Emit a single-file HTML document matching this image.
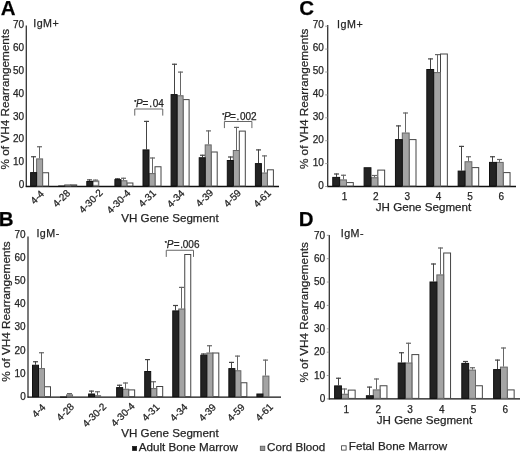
<!DOCTYPE html><html><head><meta charset="utf-8"><style>html,body{margin:0;padding:0;background:#fff;}svg{display:block;filter:grayscale(1);}text{font-family:"Liberation Sans", sans-serif;stroke:#2a2a2a;stroke-width:0.25px;}</style></head><body>
<svg width="520" height="452" viewBox="0 0 520 452">
<rect x="0" y="0" width="520" height="452" fill="#fff"/>
<line x1="26.30" y1="25.50" x2="26.30" y2="187.00" stroke="#333" stroke-width="1.3"/>
<line x1="25.80" y1="186.50" x2="279.00" y2="186.50" stroke="#111" stroke-width="1.3"/>
<text x="24.20" y="188.40" font-size="10" text-anchor="end" fill="#222">0</text>
<text x="24.20" y="165.44" font-size="10" text-anchor="end" fill="#222">10</text>
<text x="24.20" y="142.48" font-size="10" text-anchor="end" fill="#222">20</text>
<text x="24.20" y="119.52" font-size="10" text-anchor="end" fill="#222">30</text>
<text x="24.20" y="96.56" font-size="10" text-anchor="end" fill="#222">40</text>
<text x="24.20" y="73.60" font-size="10" text-anchor="end" fill="#222">50</text>
<text x="24.20" y="50.64" font-size="10" text-anchor="end" fill="#222">60</text>
<text x="24.20" y="27.68" font-size="10" text-anchor="end" fill="#222">70</text>
<text x="0.70" y="14.50" font-size="20.5" font-weight="bold" fill="#000">A</text>
<text x="33.20" y="27.20" font-size="10.7" letter-spacing="0.5" fill="#222">IgM+</text>
<text transform="translate(9.10,99.20) rotate(-90)" font-size="11.75" text-anchor="middle" fill="#222">% of VH4 Rearrangements</text>
<text x="121.30" y="222.00" font-size="11.6" fill="#222">VH Gene Segment</text>
<line x1="33.50" y1="172.10" x2="33.50" y2="156.25" stroke="#444" stroke-width="1"/>
<line x1="31.00" y1="156.75" x2="36.00" y2="156.75" stroke="#444" stroke-width="1.2"/>
<line x1="39.50" y1="158.40" x2="39.50" y2="146.25" stroke="#666" stroke-width="1"/>
<line x1="37.00" y1="146.75" x2="42.00" y2="146.75" stroke="#666" stroke-width="1.2"/>
<rect x="42.60" y="172.75" width="6.00" height="13.25" fill="#ffffff" stroke="#444" stroke-width="1"/>
<rect x="36.60" y="158.90" width="6.00" height="27.10" fill="#a4a4a4" stroke="#666" stroke-width="1"/>
<rect x="30.60" y="172.60" width="6.00" height="13.40" fill="#232323" stroke="#111" stroke-width="1"/>
<text transform="translate(44.80,194.50) rotate(-45)" font-size="10" text-anchor="end" fill="#222">4-4</text>
<rect x="70.70" y="184.90" width="6.00" height="1.10" fill="#ffffff" stroke="#444" stroke-width="1"/>
<rect x="64.70" y="184.90" width="6.00" height="1.10" fill="#a4a4a4" stroke="#666" stroke-width="1"/>
<rect x="58.70" y="186.00" width="6.00" height="0.20" fill="#232323" stroke="#111" stroke-width="1"/>
<text transform="translate(70.90,193.70) rotate(-45)" font-size="10" text-anchor="end" fill="#222">4-28</text>
<line x1="89.50" y1="181.00" x2="89.50" y2="179.40" stroke="#444" stroke-width="1"/>
<line x1="87.00" y1="179.90" x2="92.00" y2="179.90" stroke="#444" stroke-width="1.2"/>
<line x1="95.50" y1="180.50" x2="95.50" y2="179.60" stroke="#666" stroke-width="1"/>
<line x1="93.00" y1="180.10" x2="98.00" y2="180.10" stroke="#666" stroke-width="1.2"/>
<rect x="92.80" y="181.00" width="6.00" height="5.00" fill="#a4a4a4" stroke="#666" stroke-width="1"/>
<rect x="86.80" y="181.50" width="6.00" height="4.50" fill="#232323" stroke="#111" stroke-width="1"/>
<text transform="translate(103.50,193.30) rotate(-45)" font-size="10" text-anchor="end" fill="#222">4-30-2</text>
<line x1="117.50" y1="179.10" x2="117.50" y2="178.30" stroke="#444" stroke-width="1"/>
<line x1="115.00" y1="178.80" x2="120.00" y2="178.80" stroke="#444" stroke-width="1.2"/>
<line x1="123.50" y1="180.25" x2="123.50" y2="177.75" stroke="#666" stroke-width="1"/>
<line x1="121.00" y1="178.25" x2="126.00" y2="178.25" stroke="#666" stroke-width="1.2"/>
<rect x="126.90" y="183.00" width="6.00" height="3.00" fill="#ffffff" stroke="#444" stroke-width="1"/>
<rect x="120.90" y="180.75" width="6.00" height="5.25" fill="#a4a4a4" stroke="#666" stroke-width="1"/>
<rect x="114.90" y="179.60" width="6.00" height="6.40" fill="#232323" stroke="#111" stroke-width="1"/>
<text transform="translate(131.25,193.75) rotate(-45)" font-size="10" text-anchor="end" fill="#222">4-30-4</text>
<line x1="146.50" y1="149.40" x2="146.50" y2="120.90" stroke="#444" stroke-width="1"/>
<line x1="144.00" y1="121.40" x2="149.00" y2="121.40" stroke="#444" stroke-width="1.2"/>
<line x1="152.50" y1="173.10" x2="152.50" y2="157.50" stroke="#666" stroke-width="1"/>
<line x1="150.00" y1="158.00" x2="155.00" y2="158.00" stroke="#666" stroke-width="1.2"/>
<rect x="155.00" y="166.75" width="6.00" height="19.25" fill="#ffffff" stroke="#444" stroke-width="1"/>
<rect x="149.00" y="173.60" width="6.00" height="12.40" fill="#a4a4a4" stroke="#666" stroke-width="1"/>
<rect x="143.00" y="149.90" width="6.00" height="36.10" fill="#232323" stroke="#111" stroke-width="1"/>
<text transform="translate(156.70,193.70) rotate(-45)" font-size="10" text-anchor="end" fill="#222">4-31</text>
<line x1="174.50" y1="94.10" x2="174.50" y2="63.75" stroke="#444" stroke-width="1"/>
<line x1="172.00" y1="64.25" x2="177.00" y2="64.25" stroke="#444" stroke-width="1.2"/>
<line x1="180.50" y1="95.25" x2="180.50" y2="71.60" stroke="#666" stroke-width="1"/>
<line x1="178.00" y1="72.10" x2="183.00" y2="72.10" stroke="#666" stroke-width="1.2"/>
<rect x="183.10" y="99.60" width="6.00" height="86.40" fill="#ffffff" stroke="#444" stroke-width="1"/>
<rect x="177.10" y="95.75" width="6.00" height="90.25" fill="#a4a4a4" stroke="#666" stroke-width="1"/>
<rect x="171.10" y="94.60" width="6.00" height="91.40" fill="#232323" stroke="#111" stroke-width="1"/>
<text transform="translate(185.10,194.00) rotate(-45)" font-size="10" text-anchor="end" fill="#222">4-34</text>
<line x1="202.50" y1="157.25" x2="202.50" y2="154.75" stroke="#444" stroke-width="1"/>
<line x1="200.00" y1="155.25" x2="205.00" y2="155.25" stroke="#444" stroke-width="1.2"/>
<line x1="208.50" y1="144.40" x2="208.50" y2="130.40" stroke="#666" stroke-width="1"/>
<line x1="206.00" y1="130.90" x2="211.00" y2="130.90" stroke="#666" stroke-width="1.2"/>
<rect x="211.20" y="152.00" width="6.00" height="34.00" fill="#ffffff" stroke="#444" stroke-width="1"/>
<rect x="205.20" y="144.90" width="6.00" height="41.10" fill="#a4a4a4" stroke="#666" stroke-width="1"/>
<rect x="199.20" y="157.75" width="6.00" height="28.25" fill="#232323" stroke="#111" stroke-width="1"/>
<text transform="translate(214.00,193.30) rotate(-45)" font-size="10" text-anchor="end" fill="#222">4-39</text>
<line x1="230.50" y1="160.00" x2="230.50" y2="156.50" stroke="#444" stroke-width="1"/>
<line x1="228.00" y1="157.00" x2="233.00" y2="157.00" stroke="#444" stroke-width="1.2"/>
<line x1="236.50" y1="150.00" x2="236.50" y2="126.90" stroke="#666" stroke-width="1"/>
<line x1="234.00" y1="127.40" x2="239.00" y2="127.40" stroke="#666" stroke-width="1.2"/>
<rect x="239.30" y="131.10" width="6.00" height="54.90" fill="#ffffff" stroke="#444" stroke-width="1"/>
<rect x="233.30" y="150.50" width="6.00" height="35.50" fill="#a4a4a4" stroke="#666" stroke-width="1"/>
<rect x="227.30" y="160.50" width="6.00" height="25.50" fill="#232323" stroke="#111" stroke-width="1"/>
<text transform="translate(241.80,193.50) rotate(-45)" font-size="10" text-anchor="end" fill="#222">4-59</text>
<line x1="258.50" y1="163.10" x2="258.50" y2="149.40" stroke="#444" stroke-width="1"/>
<line x1="256.00" y1="149.90" x2="261.00" y2="149.90" stroke="#444" stroke-width="1.2"/>
<line x1="264.50" y1="172.50" x2="264.50" y2="155.40" stroke="#666" stroke-width="1"/>
<line x1="262.00" y1="155.90" x2="267.00" y2="155.90" stroke="#666" stroke-width="1.2"/>
<rect x="267.40" y="169.80" width="6.00" height="16.20" fill="#ffffff" stroke="#444" stroke-width="1"/>
<rect x="261.40" y="173.00" width="6.00" height="13.00" fill="#a4a4a4" stroke="#666" stroke-width="1"/>
<rect x="255.40" y="163.60" width="6.00" height="22.40" fill="#232323" stroke="#111" stroke-width="1"/>
<text transform="translate(271.60,193.80) rotate(-45)" font-size="10" text-anchor="end" fill="#222">4-61</text>
<rect x="93.6" y="182.2" width="4.2" height="2.6" fill="#fff"/>
<path d="M134.75,115.60 L134.75,109.00 L162.75,109.00 L162.75,115.60" fill="none" stroke="#666" stroke-width="1"/>
<text x="134.20" y="103.80" font-size="5.5" fill="#222">*</text>
<text y="106.90" font-size="10" fill="#222"><tspan x="135.90" font-style="italic">P</tspan><tspan x="142.50">=</tspan><tspan x="149.30">.</tspan><tspan x="152.80">04</tspan></text>
<path d="M224.40,128.10 L224.40,121.50 L251.90,121.50 L251.90,128.10" fill="none" stroke="#666" stroke-width="1"/>
<text x="222.20" y="116.90" font-size="5.5" fill="#222">*</text>
<text y="119.50" font-size="10" fill="#222"><tspan x="223.90" font-style="italic">P</tspan><tspan x="229.90">=</tspan><tspan x="236.60">.</tspan><tspan x="240.00">002</tspan></text>
<line x1="28.00" y1="236.50" x2="28.00" y2="397.60" stroke="#333" stroke-width="1.3"/>
<line x1="27.50" y1="397.10" x2="281.00" y2="397.10" stroke="#111" stroke-width="1.3"/>
<text x="25.70" y="399.90" font-size="10" text-anchor="end" fill="#222">0</text>
<text x="25.70" y="376.70" font-size="10" text-anchor="end" fill="#222">10</text>
<text x="25.70" y="353.50" font-size="10" text-anchor="end" fill="#222">20</text>
<text x="25.70" y="330.30" font-size="10" text-anchor="end" fill="#222">30</text>
<text x="25.70" y="307.10" font-size="10" text-anchor="end" fill="#222">40</text>
<text x="25.70" y="283.90" font-size="10" text-anchor="end" fill="#222">50</text>
<text x="25.70" y="260.70" font-size="10" text-anchor="end" fill="#222">60</text>
<text x="25.70" y="237.50" font-size="10" text-anchor="end" fill="#222">70</text>
<text x="-1.30" y="226.30" font-size="20.5" font-weight="bold" fill="#000">B</text>
<text x="36.40" y="237.30" font-size="10.7" letter-spacing="0.5" fill="#222">IgM-</text>
<text transform="translate(9.50,311.60) rotate(-90)" font-size="11.75" text-anchor="middle" fill="#222">% of VH4 Rearrangements</text>
<text x="121.30" y="436.80" font-size="11.6" fill="#222">VH Gene Segment</text>
<line x1="35.50" y1="364.75" x2="35.50" y2="361.25" stroke="#444" stroke-width="1"/>
<line x1="33.00" y1="361.75" x2="38.00" y2="361.75" stroke="#444" stroke-width="1.2"/>
<line x1="41.50" y1="368.10" x2="41.50" y2="352.25" stroke="#666" stroke-width="1"/>
<line x1="39.00" y1="352.75" x2="44.00" y2="352.75" stroke="#666" stroke-width="1.2"/>
<rect x="44.50" y="386.75" width="6.00" height="9.85" fill="#ffffff" stroke="#444" stroke-width="1"/>
<rect x="38.50" y="368.60" width="6.00" height="28.00" fill="#a4a4a4" stroke="#666" stroke-width="1"/>
<rect x="32.50" y="365.25" width="6.00" height="31.35" fill="#232323" stroke="#111" stroke-width="1"/>
<text transform="translate(46.10,408.00) rotate(-45)" font-size="10" text-anchor="end" fill="#222">4-4</text>
<line x1="69.50" y1="394.40" x2="69.50" y2="393.10" stroke="#666" stroke-width="1"/>
<line x1="67.00" y1="393.60" x2="72.00" y2="393.60" stroke="#666" stroke-width="1.2"/>
<rect x="66.55" y="394.90" width="6.00" height="1.70" fill="#a4a4a4" stroke="#666" stroke-width="1"/>
<rect x="60.55" y="397.00" width="6.00" height="0.20" fill="#232323" stroke="#111" stroke-width="1"/>
<text transform="translate(74.75,407.40) rotate(-45)" font-size="10" text-anchor="end" fill="#222">4-28</text>
<line x1="91.50" y1="393.50" x2="91.50" y2="390.60" stroke="#444" stroke-width="1"/>
<line x1="89.00" y1="391.10" x2="94.00" y2="391.10" stroke="#444" stroke-width="1.2"/>
<line x1="97.50" y1="395.25" x2="97.50" y2="391.25" stroke="#666" stroke-width="1"/>
<line x1="95.00" y1="391.75" x2="100.00" y2="391.75" stroke="#666" stroke-width="1.2"/>
<rect x="94.60" y="395.75" width="6.00" height="0.85" fill="#a4a4a4" stroke="#666" stroke-width="1"/>
<rect x="88.60" y="394.00" width="6.00" height="2.60" fill="#232323" stroke="#111" stroke-width="1"/>
<text transform="translate(106.90,407.20) rotate(-45)" font-size="10" text-anchor="end" fill="#222">4-30-2</text>
<line x1="119.50" y1="387.10" x2="119.50" y2="384.75" stroke="#444" stroke-width="1"/>
<line x1="117.00" y1="385.25" x2="122.00" y2="385.25" stroke="#444" stroke-width="1.2"/>
<line x1="125.50" y1="388.75" x2="125.50" y2="382.50" stroke="#666" stroke-width="1"/>
<line x1="123.00" y1="383.00" x2="128.00" y2="383.00" stroke="#666" stroke-width="1.2"/>
<rect x="128.65" y="389.90" width="6.00" height="6.70" fill="#ffffff" stroke="#444" stroke-width="1"/>
<rect x="122.65" y="389.25" width="6.00" height="7.35" fill="#a4a4a4" stroke="#666" stroke-width="1"/>
<rect x="116.65" y="387.60" width="6.00" height="9.00" fill="#232323" stroke="#111" stroke-width="1"/>
<text transform="translate(135.35,406.90) rotate(-45)" font-size="10" text-anchor="end" fill="#222">4-30-4</text>
<line x1="147.50" y1="371.00" x2="147.50" y2="359.10" stroke="#444" stroke-width="1"/>
<line x1="145.00" y1="359.60" x2="150.00" y2="359.60" stroke="#444" stroke-width="1.2"/>
<line x1="153.50" y1="388.10" x2="153.50" y2="381.25" stroke="#666" stroke-width="1"/>
<line x1="151.00" y1="381.75" x2="156.00" y2="381.75" stroke="#666" stroke-width="1.2"/>
<rect x="156.70" y="386.50" width="6.00" height="10.10" fill="#ffffff" stroke="#444" stroke-width="1"/>
<rect x="150.70" y="388.60" width="6.00" height="8.00" fill="#a4a4a4" stroke="#666" stroke-width="1"/>
<rect x="144.70" y="371.50" width="6.00" height="25.10" fill="#232323" stroke="#111" stroke-width="1"/>
<text transform="translate(160.20,407.70) rotate(-45)" font-size="10" text-anchor="end" fill="#222">4-31</text>
<line x1="175.50" y1="310.40" x2="175.50" y2="305.00" stroke="#444" stroke-width="1"/>
<line x1="173.00" y1="305.50" x2="178.00" y2="305.50" stroke="#444" stroke-width="1.2"/>
<line x1="181.50" y1="308.50" x2="181.50" y2="286.90" stroke="#666" stroke-width="1"/>
<line x1="179.00" y1="287.40" x2="184.00" y2="287.40" stroke="#666" stroke-width="1.2"/>
<rect x="184.75" y="254.50" width="6.00" height="142.10" fill="#ffffff" stroke="#444" stroke-width="1"/>
<rect x="178.75" y="309.00" width="6.00" height="87.60" fill="#a4a4a4" stroke="#666" stroke-width="1"/>
<rect x="172.75" y="310.90" width="6.00" height="85.70" fill="#232323" stroke="#111" stroke-width="1"/>
<text transform="translate(188.25,407.80) rotate(-45)" font-size="10" text-anchor="end" fill="#222">4-34</text>
<line x1="203.50" y1="354.75" x2="203.50" y2="353.50" stroke="#444" stroke-width="1"/>
<line x1="201.00" y1="354.00" x2="206.00" y2="354.00" stroke="#444" stroke-width="1.2"/>
<line x1="209.50" y1="352.50" x2="209.50" y2="345.25" stroke="#666" stroke-width="1"/>
<line x1="207.00" y1="345.75" x2="212.00" y2="345.75" stroke="#666" stroke-width="1.2"/>
<rect x="212.80" y="353.00" width="6.00" height="43.60" fill="#ffffff" stroke="#444" stroke-width="1"/>
<rect x="206.80" y="353.00" width="6.00" height="43.60" fill="#a4a4a4" stroke="#666" stroke-width="1"/>
<rect x="200.80" y="355.25" width="6.00" height="41.35" fill="#232323" stroke="#111" stroke-width="1"/>
<text transform="translate(216.80,407.90) rotate(-45)" font-size="10" text-anchor="end" fill="#222">4-39</text>
<line x1="231.50" y1="368.10" x2="231.50" y2="361.90" stroke="#444" stroke-width="1"/>
<line x1="229.00" y1="362.40" x2="234.00" y2="362.40" stroke="#444" stroke-width="1.2"/>
<line x1="237.50" y1="370.25" x2="237.50" y2="355.60" stroke="#666" stroke-width="1"/>
<line x1="235.00" y1="356.10" x2="240.00" y2="356.10" stroke="#666" stroke-width="1.2"/>
<rect x="240.85" y="382.75" width="6.00" height="13.85" fill="#ffffff" stroke="#444" stroke-width="1"/>
<rect x="234.85" y="370.75" width="6.00" height="25.85" fill="#a4a4a4" stroke="#666" stroke-width="1"/>
<rect x="228.85" y="368.60" width="6.00" height="28.00" fill="#232323" stroke="#111" stroke-width="1"/>
<text transform="translate(245.35,407.90) rotate(-45)" font-size="10" text-anchor="end" fill="#222">4-59</text>
<line x1="265.50" y1="375.60" x2="265.50" y2="359.60" stroke="#666" stroke-width="1"/>
<line x1="263.00" y1="360.10" x2="268.00" y2="360.10" stroke="#666" stroke-width="1.2"/>
<rect x="262.90" y="376.10" width="6.00" height="20.50" fill="#a4a4a4" stroke="#666" stroke-width="1"/>
<rect x="256.90" y="394.00" width="6.00" height="2.60" fill="#232323" stroke="#111" stroke-width="1"/>
<text transform="translate(273.60,407.50) rotate(-45)" font-size="10" text-anchor="end" fill="#222">4-61</text>
<path d="M166.25,256.90 L166.25,250.25 L193.50,250.25 L193.50,256.90" fill="none" stroke="#666" stroke-width="1"/>
<text x="164.80" y="245.30" font-size="5.5" fill="#222">*</text>
<text y="248.30" font-size="10" fill="#222"><tspan x="166.70" font-style="italic">P</tspan><tspan x="173.80">=</tspan><tspan x="180.20">.</tspan><tspan x="182.80">006</tspan></text>
<line x1="327.70" y1="25.00" x2="327.70" y2="187.00" stroke="#333" stroke-width="1.3"/>
<line x1="327.20" y1="186.50" x2="516.00" y2="186.50" stroke="#111" stroke-width="1.3"/>
<text x="323.90" y="188.60" font-size="10" text-anchor="end" fill="#222">0</text>
<line x1="325.20" y1="186.50" x2="327.70" y2="186.50" stroke="#888" stroke-width="0.8"/>
<text x="323.90" y="165.70" font-size="10" text-anchor="end" fill="#222">10</text>
<line x1="325.20" y1="163.60" x2="327.70" y2="163.60" stroke="#888" stroke-width="0.8"/>
<text x="323.90" y="142.80" font-size="10" text-anchor="end" fill="#222">20</text>
<line x1="325.20" y1="140.70" x2="327.70" y2="140.70" stroke="#888" stroke-width="0.8"/>
<text x="323.90" y="119.90" font-size="10" text-anchor="end" fill="#222">30</text>
<line x1="325.20" y1="117.80" x2="327.70" y2="117.80" stroke="#888" stroke-width="0.8"/>
<text x="323.90" y="97.00" font-size="10" text-anchor="end" fill="#222">40</text>
<line x1="325.20" y1="94.90" x2="327.70" y2="94.90" stroke="#888" stroke-width="0.8"/>
<text x="323.90" y="74.10" font-size="10" text-anchor="end" fill="#222">50</text>
<line x1="325.20" y1="72.00" x2="327.70" y2="72.00" stroke="#888" stroke-width="0.8"/>
<text x="323.90" y="51.20" font-size="10" text-anchor="end" fill="#222">60</text>
<line x1="325.20" y1="49.10" x2="327.70" y2="49.10" stroke="#888" stroke-width="0.8"/>
<text x="323.90" y="28.30" font-size="10" text-anchor="end" fill="#222">70</text>
<line x1="325.20" y1="26.20" x2="327.70" y2="26.20" stroke="#888" stroke-width="0.8"/>
<text x="299.20" y="14.80" font-size="20.5" font-weight="bold" fill="#000">C</text>
<text x="337.10" y="27.50" font-size="10.7" letter-spacing="0.5" fill="#222">IgM+</text>
<text transform="translate(308.20,98.90) rotate(-90)" font-size="11.75" text-anchor="middle" fill="#222">% of VH4 Rearrangements</text>
<text x="375.80" y="210.60" font-size="11.6" fill="#222">JH Gene Segment</text>
<line x1="336.50" y1="176.90" x2="336.50" y2="173.50" stroke="#444" stroke-width="1"/>
<line x1="334.00" y1="174.00" x2="339.00" y2="174.00" stroke="#444" stroke-width="1.2"/>
<line x1="343.50" y1="179.40" x2="343.50" y2="174.75" stroke="#666" stroke-width="1"/>
<line x1="341.00" y1="175.25" x2="346.00" y2="175.25" stroke="#666" stroke-width="1.2"/>
<rect x="346.45" y="182.60" width="6.85" height="3.40" fill="#ffffff" stroke="#444" stroke-width="1"/>
<rect x="339.60" y="179.90" width="6.85" height="6.10" fill="#a4a4a4" stroke="#666" stroke-width="1"/>
<rect x="332.75" y="177.40" width="6.85" height="8.60" fill="#232323" stroke="#111" stroke-width="1"/>
<text x="344.52" y="200.10" font-size="10" text-anchor="middle" fill="#222">1</text>
<line x1="374.50" y1="177.25" x2="374.50" y2="175.00" stroke="#666" stroke-width="1"/>
<line x1="372.00" y1="175.50" x2="377.00" y2="175.50" stroke="#666" stroke-width="1.2"/>
<rect x="377.80" y="170.10" width="6.85" height="15.90" fill="#ffffff" stroke="#444" stroke-width="1"/>
<rect x="370.95" y="177.75" width="6.85" height="8.25" fill="#a4a4a4" stroke="#666" stroke-width="1"/>
<rect x="364.10" y="167.75" width="6.85" height="18.25" fill="#232323" stroke="#111" stroke-width="1"/>
<text x="375.88" y="200.10" font-size="10" text-anchor="middle" fill="#222">2</text>
<line x1="398.50" y1="139.10" x2="398.50" y2="125.40" stroke="#444" stroke-width="1"/>
<line x1="396.00" y1="125.90" x2="401.00" y2="125.90" stroke="#444" stroke-width="1.2"/>
<line x1="405.50" y1="132.50" x2="405.50" y2="112.50" stroke="#666" stroke-width="1"/>
<line x1="403.00" y1="113.00" x2="408.00" y2="113.00" stroke="#666" stroke-width="1.2"/>
<rect x="409.15" y="139.60" width="6.85" height="46.40" fill="#ffffff" stroke="#444" stroke-width="1"/>
<rect x="402.30" y="133.00" width="6.85" height="53.00" fill="#a4a4a4" stroke="#666" stroke-width="1"/>
<rect x="395.45" y="139.60" width="6.85" height="46.40" fill="#232323" stroke="#111" stroke-width="1"/>
<text x="407.22" y="200.10" font-size="10" text-anchor="middle" fill="#222">3</text>
<line x1="430.50" y1="69.00" x2="430.50" y2="58.40" stroke="#444" stroke-width="1"/>
<line x1="428.00" y1="58.90" x2="433.00" y2="58.90" stroke="#444" stroke-width="1.2"/>
<line x1="437.50" y1="72.10" x2="437.50" y2="54.10" stroke="#666" stroke-width="1"/>
<line x1="435.00" y1="54.60" x2="440.00" y2="54.60" stroke="#666" stroke-width="1.2"/>
<rect x="440.50" y="54.00" width="6.85" height="132.00" fill="#ffffff" stroke="#444" stroke-width="1"/>
<rect x="433.65" y="72.60" width="6.85" height="113.40" fill="#a4a4a4" stroke="#666" stroke-width="1"/>
<rect x="426.80" y="69.50" width="6.85" height="116.50" fill="#232323" stroke="#111" stroke-width="1"/>
<text x="438.57" y="200.10" font-size="10" text-anchor="middle" fill="#222">4</text>
<line x1="461.50" y1="170.60" x2="461.50" y2="145.90" stroke="#444" stroke-width="1"/>
<line x1="459.00" y1="146.40" x2="464.00" y2="146.40" stroke="#444" stroke-width="1.2"/>
<line x1="468.50" y1="161.25" x2="468.50" y2="156.25" stroke="#666" stroke-width="1"/>
<line x1="466.00" y1="156.75" x2="471.00" y2="156.75" stroke="#666" stroke-width="1.2"/>
<rect x="471.85" y="167.60" width="6.85" height="18.40" fill="#ffffff" stroke="#444" stroke-width="1"/>
<rect x="465.00" y="161.75" width="6.85" height="24.25" fill="#a4a4a4" stroke="#666" stroke-width="1"/>
<rect x="458.15" y="171.10" width="6.85" height="14.90" fill="#232323" stroke="#111" stroke-width="1"/>
<text x="469.92" y="200.10" font-size="10" text-anchor="middle" fill="#222">5</text>
<line x1="492.50" y1="161.90" x2="492.50" y2="156.25" stroke="#444" stroke-width="1"/>
<line x1="490.00" y1="156.75" x2="495.00" y2="156.75" stroke="#444" stroke-width="1.2"/>
<line x1="499.50" y1="161.90" x2="499.50" y2="159.00" stroke="#666" stroke-width="1"/>
<line x1="497.00" y1="159.50" x2="502.00" y2="159.50" stroke="#666" stroke-width="1.2"/>
<rect x="503.20" y="172.60" width="6.85" height="13.40" fill="#ffffff" stroke="#444" stroke-width="1"/>
<rect x="496.35" y="162.40" width="6.85" height="23.60" fill="#a4a4a4" stroke="#666" stroke-width="1"/>
<rect x="489.50" y="162.40" width="6.85" height="23.60" fill="#232323" stroke="#111" stroke-width="1"/>
<text x="501.27" y="200.10" font-size="10" text-anchor="middle" fill="#222">6</text>
<line x1="329.30" y1="235.00" x2="329.30" y2="399.40" stroke="#333" stroke-width="1.3"/>
<line x1="328.80" y1="398.90" x2="520.00" y2="398.90" stroke="#111" stroke-width="1.3"/>
<text x="325.20" y="402.20" font-size="10" text-anchor="end" fill="#222">0</text>
<line x1="326.80" y1="398.90" x2="329.30" y2="398.90" stroke="#888" stroke-width="0.8"/>
<text x="325.20" y="378.83" font-size="10" text-anchor="end" fill="#222">10</text>
<line x1="326.80" y1="375.53" x2="329.30" y2="375.53" stroke="#888" stroke-width="0.8"/>
<text x="325.20" y="355.46" font-size="10" text-anchor="end" fill="#222">20</text>
<line x1="326.80" y1="352.16" x2="329.30" y2="352.16" stroke="#888" stroke-width="0.8"/>
<text x="325.20" y="332.09" font-size="10" text-anchor="end" fill="#222">30</text>
<line x1="326.80" y1="328.79" x2="329.30" y2="328.79" stroke="#888" stroke-width="0.8"/>
<text x="325.20" y="308.72" font-size="10" text-anchor="end" fill="#222">40</text>
<line x1="326.80" y1="305.42" x2="329.30" y2="305.42" stroke="#888" stroke-width="0.8"/>
<text x="325.20" y="285.35" font-size="10" text-anchor="end" fill="#222">50</text>
<line x1="326.80" y1="282.05" x2="329.30" y2="282.05" stroke="#888" stroke-width="0.8"/>
<text x="325.20" y="261.98" font-size="10" text-anchor="end" fill="#222">60</text>
<line x1="326.80" y1="258.68" x2="329.30" y2="258.68" stroke="#888" stroke-width="0.8"/>
<text x="325.20" y="238.61" font-size="10" text-anchor="end" fill="#222">70</text>
<line x1="326.80" y1="235.31" x2="329.30" y2="235.31" stroke="#888" stroke-width="0.8"/>
<text x="298.85" y="226.40" font-size="20.5" font-weight="bold" fill="#000">D</text>
<text x="340.70" y="236.70" font-size="10.7" letter-spacing="0.5" fill="#222">IgM-</text>
<text transform="translate(308.20,312.40) rotate(-90)" font-size="11.75" text-anchor="middle" fill="#222">% of VH4 Rearrangements</text>
<text x="376.80" y="423.80" font-size="11.6" fill="#222">JH Gene Segment</text>
<line x1="338.50" y1="385.40" x2="338.50" y2="377.75" stroke="#444" stroke-width="1"/>
<line x1="336.00" y1="378.25" x2="341.00" y2="378.25" stroke="#444" stroke-width="1.2"/>
<line x1="344.50" y1="393.75" x2="344.50" y2="388.50" stroke="#666" stroke-width="1"/>
<line x1="342.00" y1="389.00" x2="347.00" y2="389.00" stroke="#666" stroke-width="1.2"/>
<rect x="348.30" y="390.10" width="6.85" height="8.30" fill="#ffffff" stroke="#444" stroke-width="1"/>
<rect x="341.45" y="394.25" width="6.85" height="4.15" fill="#a4a4a4" stroke="#666" stroke-width="1"/>
<rect x="334.60" y="385.90" width="6.85" height="12.50" fill="#232323" stroke="#111" stroke-width="1"/>
<text x="346.38" y="412.50" font-size="10" text-anchor="middle" fill="#222">1</text>
<line x1="369.50" y1="395.25" x2="369.50" y2="386.60" stroke="#444" stroke-width="1"/>
<line x1="367.00" y1="387.10" x2="372.00" y2="387.10" stroke="#444" stroke-width="1.2"/>
<line x1="376.50" y1="389.40" x2="376.50" y2="378.50" stroke="#666" stroke-width="1"/>
<line x1="374.00" y1="379.00" x2="379.00" y2="379.00" stroke="#666" stroke-width="1.2"/>
<rect x="380.10" y="385.75" width="6.85" height="12.65" fill="#ffffff" stroke="#444" stroke-width="1"/>
<rect x="373.25" y="389.90" width="6.85" height="8.50" fill="#a4a4a4" stroke="#666" stroke-width="1"/>
<rect x="366.40" y="395.75" width="6.85" height="2.65" fill="#232323" stroke="#111" stroke-width="1"/>
<text x="378.18" y="412.50" font-size="10" text-anchor="middle" fill="#222">2</text>
<line x1="401.50" y1="362.50" x2="401.50" y2="352.25" stroke="#444" stroke-width="1"/>
<line x1="399.00" y1="352.75" x2="404.00" y2="352.75" stroke="#444" stroke-width="1.2"/>
<line x1="408.50" y1="362.50" x2="408.50" y2="342.75" stroke="#666" stroke-width="1"/>
<line x1="406.00" y1="343.25" x2="411.00" y2="343.25" stroke="#666" stroke-width="1.2"/>
<rect x="411.90" y="354.60" width="6.85" height="43.80" fill="#ffffff" stroke="#444" stroke-width="1"/>
<rect x="405.05" y="363.00" width="6.85" height="35.40" fill="#a4a4a4" stroke="#666" stroke-width="1"/>
<rect x="398.20" y="363.00" width="6.85" height="35.40" fill="#232323" stroke="#111" stroke-width="1"/>
<text x="409.98" y="412.50" font-size="10" text-anchor="middle" fill="#222">3</text>
<line x1="433.50" y1="281.50" x2="433.50" y2="263.50" stroke="#444" stroke-width="1"/>
<line x1="431.00" y1="264.00" x2="436.00" y2="264.00" stroke="#444" stroke-width="1.2"/>
<line x1="440.50" y1="274.40" x2="440.50" y2="247.50" stroke="#666" stroke-width="1"/>
<line x1="438.00" y1="248.00" x2="443.00" y2="248.00" stroke="#666" stroke-width="1.2"/>
<rect x="443.70" y="253.00" width="6.85" height="145.40" fill="#ffffff" stroke="#444" stroke-width="1"/>
<rect x="436.85" y="274.90" width="6.85" height="123.50" fill="#a4a4a4" stroke="#666" stroke-width="1"/>
<rect x="430.00" y="282.00" width="6.85" height="116.40" fill="#232323" stroke="#111" stroke-width="1"/>
<text x="441.77" y="412.50" font-size="10" text-anchor="middle" fill="#222">4</text>
<line x1="465.50" y1="362.90" x2="465.50" y2="361.00" stroke="#444" stroke-width="1"/>
<line x1="463.00" y1="361.50" x2="468.00" y2="361.50" stroke="#444" stroke-width="1.2"/>
<line x1="472.50" y1="369.60" x2="472.50" y2="367.25" stroke="#666" stroke-width="1"/>
<line x1="470.00" y1="367.75" x2="475.00" y2="367.75" stroke="#666" stroke-width="1.2"/>
<rect x="475.50" y="385.75" width="6.85" height="12.65" fill="#ffffff" stroke="#444" stroke-width="1"/>
<rect x="468.65" y="370.10" width="6.85" height="28.30" fill="#a4a4a4" stroke="#666" stroke-width="1"/>
<rect x="461.80" y="363.40" width="6.85" height="35.00" fill="#232323" stroke="#111" stroke-width="1"/>
<text x="473.57" y="412.50" font-size="10" text-anchor="middle" fill="#222">5</text>
<line x1="497.50" y1="369.10" x2="497.50" y2="359.60" stroke="#444" stroke-width="1"/>
<line x1="495.00" y1="360.10" x2="500.00" y2="360.10" stroke="#444" stroke-width="1.2"/>
<line x1="503.50" y1="366.60" x2="503.50" y2="347.50" stroke="#666" stroke-width="1"/>
<line x1="501.00" y1="348.00" x2="506.00" y2="348.00" stroke="#666" stroke-width="1.2"/>
<rect x="507.30" y="389.90" width="6.85" height="8.50" fill="#ffffff" stroke="#444" stroke-width="1"/>
<rect x="500.45" y="367.10" width="6.85" height="31.30" fill="#a4a4a4" stroke="#666" stroke-width="1"/>
<rect x="493.60" y="369.60" width="6.85" height="28.80" fill="#232323" stroke="#111" stroke-width="1"/>
<text x="505.38" y="412.50" font-size="10" text-anchor="middle" fill="#222">6</text>
<rect x="132.4" y="446.3" width="4.3" height="4.3" fill="#111" stroke="#111" stroke-width="0.6"/>
<text x="138.8" y="450.6" font-size="11.65" fill="#222">Adult Bone Marrow</text>
<rect x="260.3" y="446.2" width="4.5" height="4.3" fill="#999" stroke="#555" stroke-width="0.8"/>
<text x="267" y="450.6" font-size="11.65" fill="#222">Cord Blood</text>
<rect x="341.6" y="445.8" width="4.5" height="4.3" fill="#fff" stroke="#333" stroke-width="0.8"/>
<text x="348.8" y="450.2" font-size="11.65" fill="#222">Fetal Bone Marrow</text>
</svg></body></html>
